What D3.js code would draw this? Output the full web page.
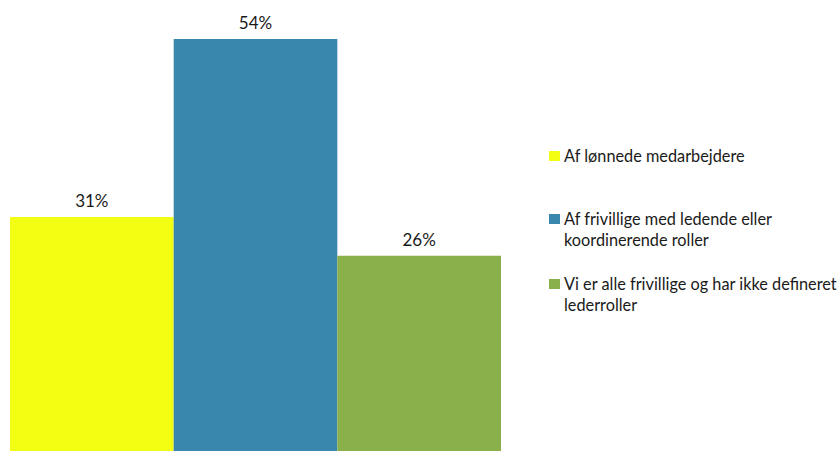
<!DOCTYPE html>
<html><head><meta charset="utf-8">
<script src="https://cdn.jsdelivr.net/npm/d3@7"></script>
<style>body{margin:0;background:#fff}svg{display:block}text{font-family:Lato,"Open Sans",sans-serif;fill:#1a1a1a}</style>
</head><body><svg id="c" width="838" height="451"></svg>
<script>
const categories = ["Af lønnede medarbejdere", "Af frivillige med ledende eller koordinerende roller", "Vi er alle frivillige og har ikke defineret lederroller"];
const legendLines = [["Af lønnede medarbejdere"], ["Af frivillige med ledende eller", "koordinerende roller"], ["Vi er alle frivillige og har ikke defineret", "lederroller"]];
const values = [31, 54, 26];
const colors = ["#f2ff12", "#3a87ae", "#8ab04c"];

const svg = d3.select("#c");
const x = d3.scaleBand().domain(categories).range([10, 501]).padding(0);
const y = d3.scaleLinear().domain([0, 54]).range([457, 39]);

svg.selectAll("rect.bar").data(categories).join("rect").attr("class","bar")
  .attr("x", d => x(d)).attr("width", x.bandwidth())
  .attr("y", (d,i) => y(values[i])).attr("height", (d,i) => y(0) - y(values[i]))
  .attr("fill", (d,i) => colors[i]);

svg.selectAll("text.lbl").data(categories).join("text").attr("class","lbl")
  .attr("x", d => x(d) + x.bandwidth()/2).attr("y", (d,i) => y(values[i]) - 10)
  .attr("text-anchor","middle").attr("font-size", 17)
  .text((d,i) => values[i] + "%");

const ly = [156, 219, 284];
const lg = svg.selectAll("g.leg").data(categories).join("g").attr("class","leg")
  .attr("transform", (d,i) => `translate(549,${ly[i]})`);
lg.append("rect").attr("x",0).attr("y",-5).attr("width",11).attr("height",10).attr("fill",(d,i)=>colors[i]);
lg.each(function(d,i){
  const t = d3.select(this).append("text").attr("x",15).attr("y",6).attr("font-size",16.3);
  legendLines[i].forEach((s,j)=> t.append("tspan").attr("x",15).attr("dy", j?21:0).text(s));
});
</script></body></html>
